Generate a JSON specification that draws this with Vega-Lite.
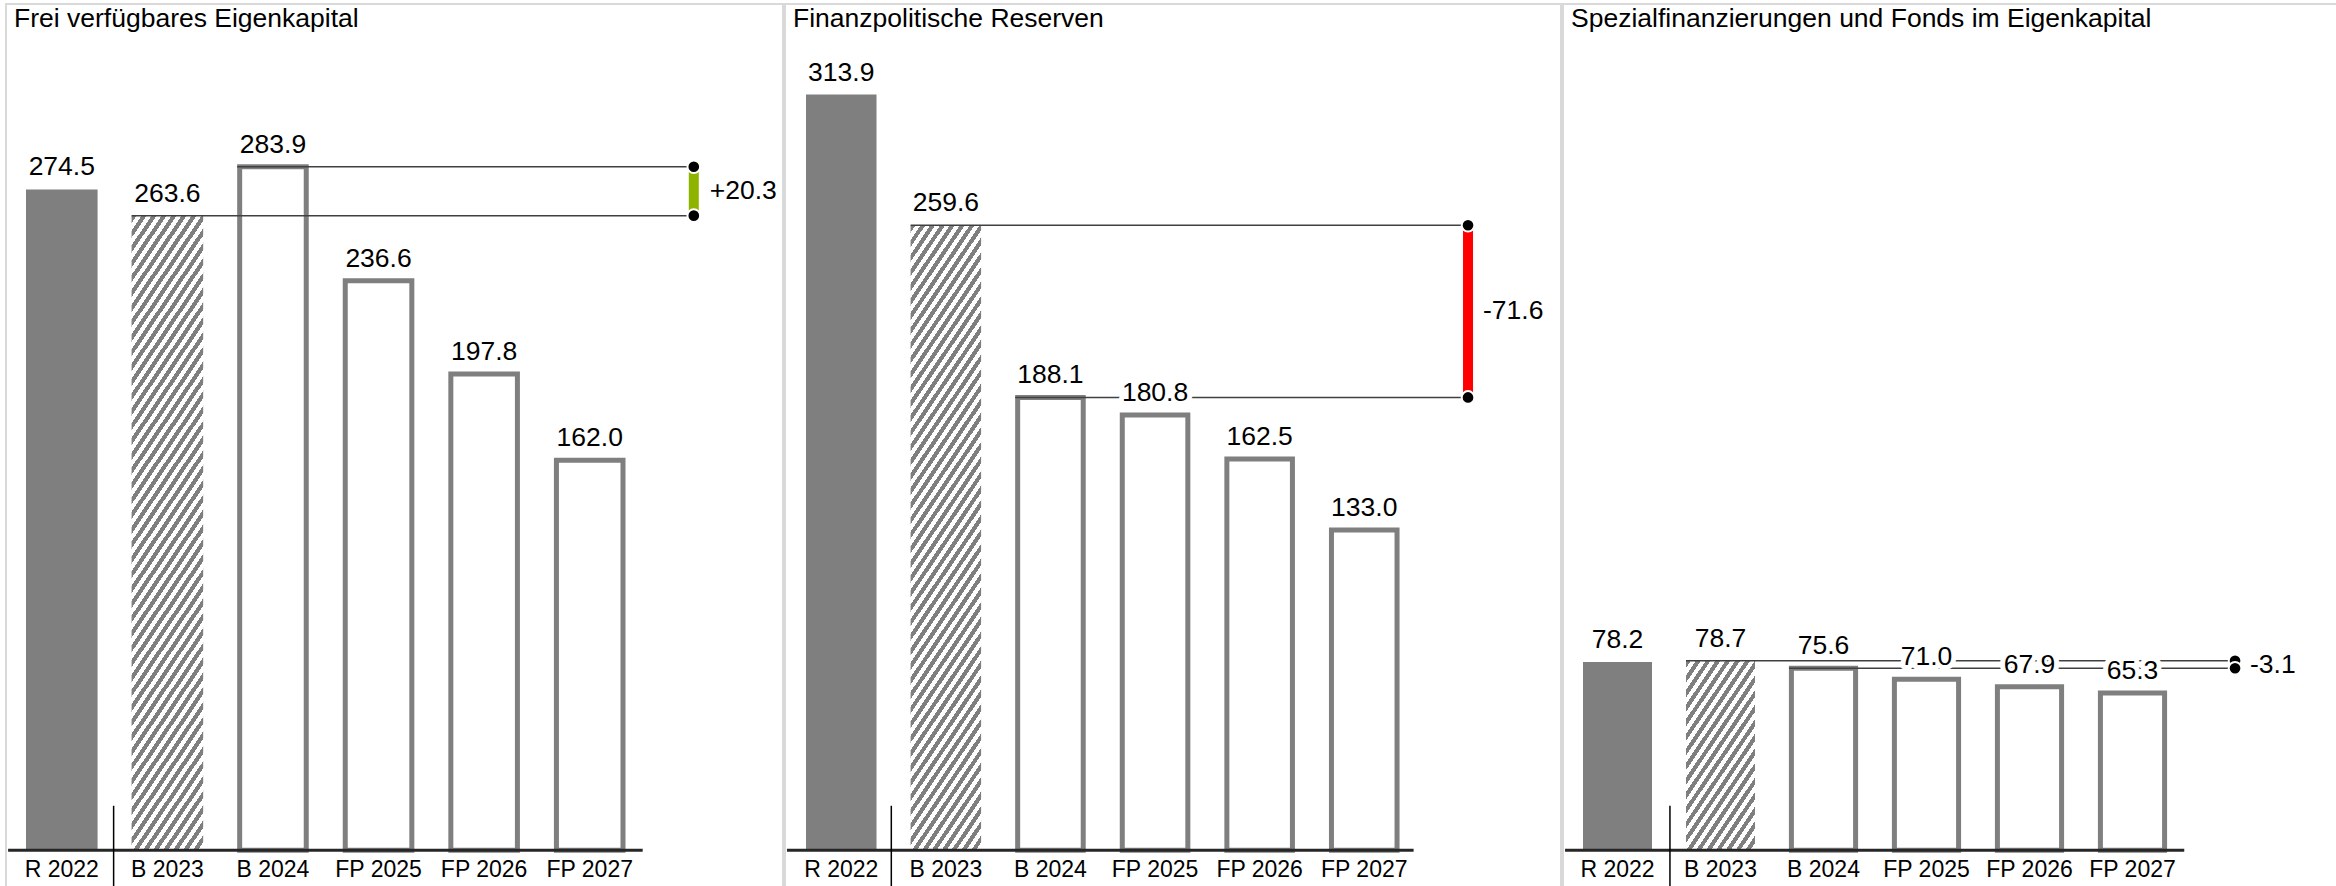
{
  "$schema": "https://vega.github.io/schema/vega-lite/v6.json",
  "padding": {"left": 5, "top": 3, "right": 0, "bottom": 0},
  "background": "white",
  "spacing": 0,
  "config": {
    "view": {"stroke": "#d9d9d9", "strokeWidth": 2},
    "font": "Liberation Sans",
    "axis": {"disable": true},
    "text": {"font": "Liberation Sans", "color": "#000000"},
    "title": {"font": "Liberation Sans", "fontSize": 26.5, "fontWeight": "normal", "anchor": "start", "color": "#000000", "offset": -28, "dx": 8, "baseline": "alphabetic", "frame": "group"}
  },
  "datasets": {
    "p1": [
      {"cat": "R 2022", "value": 274.5, "kind": "R"},
      {"cat": "B 2023", "value": 263.6, "kind": "B"},
      {"cat": "B 2024", "value": 283.9, "kind": "P"},
      {"cat": "FP 2025", "value": 236.6, "kind": "P"},
      {"cat": "FP 2026", "value": 197.8, "kind": "P"},
      {"cat": "FP 2027", "value": 162.0, "kind": "P"}
    ],
    "p2": [
      {"cat": "R 2022", "value": 313.9, "kind": "R"},
      {"cat": "B 2023", "value": 259.6, "kind": "B"},
      {"cat": "B 2024", "value": 188.1, "kind": "P"},
      {"cat": "FP 2025", "value": 180.8, "kind": "P"},
      {"cat": "FP 2026", "value": 162.5, "kind": "P"},
      {"cat": "FP 2027", "value": 133.0, "kind": "P"}
    ],
    "p3": [
      {"cat": "R 2022", "value": 78.2, "kind": "R"},
      {"cat": "B 2023", "value": 78.7, "kind": "B"},
      {"cat": "B 2024", "value": 75.6, "kind": "P"},
      {"cat": "FP 2025", "value": 71.0, "kind": "P"},
      {"cat": "FP 2026", "value": 67.9, "kind": "P"},
      {"cat": "FP 2027", "value": 65.3, "kind": "P"}
    ],
    "d1": [{"from": 263.6, "to": 283.9, "mid": 273.75, "delta": "+20.3"}],
    "d2": [{"from": 259.6, "to": 188.1, "mid": 223.85, "delta": "-71.6"}],
    "d3": [{"from": 78.7, "to": 75.6, "mid": 77.15, "delta": "-3.1"}]
  },
  "hconcat": [
    {
      "width": 777, "height": 887,
      "title": "Frei verfügbares Eigenkapital",
      "data": {"name": "p1"},
      "layer": [
        {"transform": [{"filter": "datum.kind === 'R'"}], "mark": {"type": "bar", "fill": "#7f7f7f"},
         "encoding": {"x": {"field": "cat", "type": "nominal", "scale": {"type": "band", "domain": ["R 2022","B 2023","B 2024","FP 2025","FP 2026","FP 2027"], "range": [20, 619.5], "paddingInner": 0.322, "paddingOuter": 0}},
                      "y": {"field": "value", "type": "quantitative", "scale": {"domain": [-16.9, 351.5], "nice": false, "zero": false}}, "y2": {"datum": 0}}},
        {"transform": [{"filter": "datum.kind === 'B'"}], "mark": {"type": "bar", "fill": {"gradient": "linear", "x1": 0, "y1": 0, "x2": 0.1894, "y2": 1.1346, "stops": [
        {"offset":0,"color":"#7f7f7f"},{"offset":0.01,"color":"#7f7f7f"},{"offset":0.01,"color":"#fff"},{"offset":0.02,"color":"#fff"},
        {"offset":0.02,"color":"#7f7f7f"},{"offset":0.03,"color":"#7f7f7f"},{"offset":0.03,"color":"#fff"},{"offset":0.04,"color":"#fff"},
        {"offset":0.04,"color":"#7f7f7f"},{"offset":0.05,"color":"#7f7f7f"},{"offset":0.05,"color":"#fff"},{"offset":0.06,"color":"#fff"},
        {"offset":0.06,"color":"#7f7f7f"},{"offset":0.07,"color":"#7f7f7f"},{"offset":0.07,"color":"#fff"},{"offset":0.08,"color":"#fff"},
        {"offset":0.08,"color":"#7f7f7f"},{"offset":0.09,"color":"#7f7f7f"},{"offset":0.09,"color":"#fff"},{"offset":0.1,"color":"#fff"},
        {"offset":0.1,"color":"#7f7f7f"},{"offset":0.11,"color":"#7f7f7f"},{"offset":0.11,"color":"#fff"},{"offset":0.12,"color":"#fff"},
        {"offset":0.12,"color":"#7f7f7f"},{"offset":0.13,"color":"#7f7f7f"},{"offset":0.13,"color":"#fff"},{"offset":0.14,"color":"#fff"},
        {"offset":0.14,"color":"#7f7f7f"},{"offset":0.15,"color":"#7f7f7f"},{"offset":0.15,"color":"#fff"},{"offset":0.16,"color":"#fff"},
        {"offset":0.16,"color":"#7f7f7f"},{"offset":0.17,"color":"#7f7f7f"},{"offset":0.17,"color":"#fff"},{"offset":0.18,"color":"#fff"},
        {"offset":0.18,"color":"#7f7f7f"},{"offset":0.19,"color":"#7f7f7f"},{"offset":0.19,"color":"#fff"},{"offset":0.2,"color":"#fff"},
        {"offset":0.2,"color":"#7f7f7f"},{"offset":0.21,"color":"#7f7f7f"},{"offset":0.21,"color":"#fff"},{"offset":0.22,"color":"#fff"},
        {"offset":0.22,"color":"#7f7f7f"},{"offset":0.23,"color":"#7f7f7f"},{"offset":0.23,"color":"#fff"},{"offset":0.24,"color":"#fff"},
        {"offset":0.24,"color":"#7f7f7f"},{"offset":0.25,"color":"#7f7f7f"},{"offset":0.25,"color":"#fff"},{"offset":0.26,"color":"#fff"},
        {"offset":0.26,"color":"#7f7f7f"},{"offset":0.27,"color":"#7f7f7f"},{"offset":0.27,"color":"#fff"},{"offset":0.28,"color":"#fff"},
        {"offset":0.28,"color":"#7f7f7f"},{"offset":0.29,"color":"#7f7f7f"},{"offset":0.29,"color":"#fff"},{"offset":0.3,"color":"#fff"},
        {"offset":0.3,"color":"#7f7f7f"},{"offset":0.31,"color":"#7f7f7f"},{"offset":0.31,"color":"#fff"},{"offset":0.32,"color":"#fff"},
        {"offset":0.32,"color":"#7f7f7f"},{"offset":0.33,"color":"#7f7f7f"},{"offset":0.33,"color":"#fff"},{"offset":0.34,"color":"#fff"},
        {"offset":0.34,"color":"#7f7f7f"},{"offset":0.35,"color":"#7f7f7f"},{"offset":0.35,"color":"#fff"},{"offset":0.36,"color":"#fff"},
        {"offset":0.36,"color":"#7f7f7f"},{"offset":0.37,"color":"#7f7f7f"},{"offset":0.37,"color":"#fff"},{"offset":0.38,"color":"#fff"},
        {"offset":0.38,"color":"#7f7f7f"},{"offset":0.39,"color":"#7f7f7f"},{"offset":0.39,"color":"#fff"},{"offset":0.4,"color":"#fff"},
        {"offset":0.4,"color":"#7f7f7f"},{"offset":0.41,"color":"#7f7f7f"},{"offset":0.41,"color":"#fff"},{"offset":0.42,"color":"#fff"},
        {"offset":0.42,"color":"#7f7f7f"},{"offset":0.43,"color":"#7f7f7f"},{"offset":0.43,"color":"#fff"},{"offset":0.44,"color":"#fff"},
        {"offset":0.44,"color":"#7f7f7f"},{"offset":0.45,"color":"#7f7f7f"},{"offset":0.45,"color":"#fff"},{"offset":0.46,"color":"#fff"},
        {"offset":0.46,"color":"#7f7f7f"},{"offset":0.47,"color":"#7f7f7f"},{"offset":0.47,"color":"#fff"},{"offset":0.48,"color":"#fff"},
        {"offset":0.48,"color":"#7f7f7f"},{"offset":0.49,"color":"#7f7f7f"},{"offset":0.49,"color":"#fff"},{"offset":0.5,"color":"#fff"},
        {"offset":0.5,"color":"#7f7f7f"},{"offset":0.51,"color":"#7f7f7f"},{"offset":0.51,"color":"#fff"},{"offset":0.52,"color":"#fff"},
        {"offset":0.52,"color":"#7f7f7f"},{"offset":0.53,"color":"#7f7f7f"},{"offset":0.53,"color":"#fff"},{"offset":0.54,"color":"#fff"},
        {"offset":0.54,"color":"#7f7f7f"},{"offset":0.55,"color":"#7f7f7f"},{"offset":0.55,"color":"#fff"},{"offset":0.56,"color":"#fff"},
        {"offset":0.56,"color":"#7f7f7f"},{"offset":0.57,"color":"#7f7f7f"},{"offset":0.57,"color":"#fff"},{"offset":0.58,"color":"#fff"},
        {"offset":0.58,"color":"#7f7f7f"},{"offset":0.59,"color":"#7f7f7f"},{"offset":0.59,"color":"#fff"},{"offset":0.6,"color":"#fff"},
        {"offset":0.6,"color":"#7f7f7f"},{"offset":0.61,"color":"#7f7f7f"},{"offset":0.61,"color":"#fff"},{"offset":0.62,"color":"#fff"},
        {"offset":0.62,"color":"#7f7f7f"},{"offset":0.63,"color":"#7f7f7f"},{"offset":0.63,"color":"#fff"},{"offset":0.64,"color":"#fff"},
        {"offset":0.64,"color":"#7f7f7f"},{"offset":0.65,"color":"#7f7f7f"},{"offset":0.65,"color":"#fff"},{"offset":0.66,"color":"#fff"},
        {"offset":0.66,"color":"#7f7f7f"},{"offset":0.67,"color":"#7f7f7f"},{"offset":0.67,"color":"#fff"},{"offset":0.68,"color":"#fff"},
        {"offset":0.68,"color":"#7f7f7f"},{"offset":0.69,"color":"#7f7f7f"},{"offset":0.69,"color":"#fff"},{"offset":0.7,"color":"#fff"},
        {"offset":0.7,"color":"#7f7f7f"},{"offset":0.71,"color":"#7f7f7f"},{"offset":0.71,"color":"#fff"},{"offset":0.72,"color":"#fff"},
        {"offset":0.72,"color":"#7f7f7f"},{"offset":0.73,"color":"#7f7f7f"},{"offset":0.73,"color":"#fff"},{"offset":0.74,"color":"#fff"},
        {"offset":0.74,"color":"#7f7f7f"},{"offset":0.75,"color":"#7f7f7f"},{"offset":0.75,"color":"#fff"},{"offset":0.76,"color":"#fff"},
        {"offset":0.76,"color":"#7f7f7f"},{"offset":0.77,"color":"#7f7f7f"},{"offset":0.77,"color":"#fff"},{"offset":0.78,"color":"#fff"},
        {"offset":0.78,"color":"#7f7f7f"},{"offset":0.79,"color":"#7f7f7f"},{"offset":0.79,"color":"#fff"},{"offset":0.8,"color":"#fff"},
        {"offset":0.8,"color":"#7f7f7f"},{"offset":0.81,"color":"#7f7f7f"},{"offset":0.81,"color":"#fff"},{"offset":0.82,"color":"#fff"},
        {"offset":0.82,"color":"#7f7f7f"},{"offset":0.83,"color":"#7f7f7f"},{"offset":0.83,"color":"#fff"},{"offset":0.84,"color":"#fff"},
        {"offset":0.84,"color":"#7f7f7f"},{"offset":0.85,"color":"#7f7f7f"},{"offset":0.85,"color":"#fff"},{"offset":0.86,"color":"#fff"},
        {"offset":0.86,"color":"#7f7f7f"},{"offset":0.87,"color":"#7f7f7f"},{"offset":0.87,"color":"#fff"},{"offset":0.88,"color":"#fff"},
        {"offset":0.88,"color":"#7f7f7f"},{"offset":0.89,"color":"#7f7f7f"},{"offset":0.89,"color":"#fff"},{"offset":0.9,"color":"#fff"},
        {"offset":0.9,"color":"#7f7f7f"},{"offset":0.91,"color":"#7f7f7f"},{"offset":0.91,"color":"#fff"},{"offset":0.92,"color":"#fff"},
        {"offset":0.92,"color":"#7f7f7f"},{"offset":0.93,"color":"#7f7f7f"},{"offset":0.93,"color":"#fff"},{"offset":0.94,"color":"#fff"},
        {"offset":0.94,"color":"#7f7f7f"},{"offset":0.95,"color":"#7f7f7f"},{"offset":0.95,"color":"#fff"},{"offset":0.96,"color":"#fff"},
        {"offset":0.96,"color":"#7f7f7f"},{"offset":0.97,"color":"#7f7f7f"},{"offset":0.97,"color":"#fff"},{"offset":0.98,"color":"#fff"},
        {"offset":0.98,"color":"#7f7f7f"},{"offset":0.99,"color":"#7f7f7f"},{"offset":0.99,"color":"#fff"},{"offset":1,"color":"#fff"}
        ]}},
         "encoding": {"x": {"field": "cat", "type": "nominal"}, "y": {"field": "value", "type": "quantitative"}, "y2": {"datum": 0}}},
        {"transform": [{"filter": "datum.kind === 'P'"}], "mark": {"type": "bar", "fill": "#ffffff", "stroke": "#7f7f7f", "strokeWidth": 5, "width": {"band": 0.93}},
         "encoding": {"x": {"field": "cat", "type": "nominal"}, "y": {"field": "value", "type": "quantitative"}, "y2": {"datum": 0}}},
        {"data": {"name": "d1"}, "mark": {"type": "rule", "color": "#262626", "strokeWidth": 3},
         "encoding": {"x": {"datum": "R 2022", "type": "nominal", "bandPosition": -0.25, "scale": {"type": "band"}}, "x2": {"datum": "FP 2027", "bandPosition": 1.24}, "y": {"datum": 0, "type": "quantitative"}}},
        {"data": {"name": "d1"}, "mark": {"type": "rule", "color": "#000000", "strokeWidth": 1.5},
         "encoding": {"x": {"datum": "R 2022", "type": "nominal", "bandPosition": 1.224, "scale": {"type": "band"}}, "y": {"datum": 18.5, "type": "quantitative"}, "y2": {"datum": -16.9}}},
        {"data": {"name": "d1"}, "mark": {"type": "rule", "color": "#404040", "strokeWidth": 1.5},
         "encoding": {"x": {"datum": "B 2023", "type": "nominal", "bandPosition": 0, "scale": {"type": "band"}}, "x2": {"datum": "FP 2027", "bandPosition": 1.954}, "y": {"field": "from", "type": "quantitative"}}},
        {"data": {"name": "d1"}, "mark": {"type": "rule", "color": "#404040", "strokeWidth": 1.5},
         "encoding": {"x": {"datum": "B 2024", "type": "nominal", "bandPosition": 0, "scale": {"type": "band"}}, "x2": {"datum": "FP 2027", "bandPosition": 1.954}, "y": {"field": "to", "type": "quantitative"}}},
        {"mark": {"type": "text", "fontSize": 26.5, "dy": -14, "baseline": "alphabetic", "fill": "#ffffff", "stroke": "#ffffff", "strokeWidth": 10, "strokeJoin": "round"},
         "encoding": {"x": {"field": "cat", "type": "nominal", "scale": {"type": "band"}}, "y": {"field": "value", "type": "quantitative"}, "text": {"field": "value", "type": "quantitative", "format": ".1f"}}},
        {"mark": {"type": "text", "fontSize": 26.5, "dy": -14, "baseline": "alphabetic", "fill": "#000000"},
         "encoding": {"x": {"field": "cat", "type": "nominal", "scale": {"type": "band"}}, "y": {"field": "value", "type": "quantitative"}, "text": {"field": "value", "type": "quantitative", "format": ".1f"}}},
        {"mark": {"type": "text", "fontSize": 23, "dy": 27, "baseline": "alphabetic", "fill": "#000000"},
         "encoding": {"x": {"field": "cat", "type": "nominal", "scale": {"type": "band"}}, "y": {"datum": 0, "type": "quantitative"}, "text": {"field": "cat", "type": "nominal"}}},
        {"data": {"name": "d1"}, "mark": {"type": "rule", "color": "#8fb400", "strokeWidth": 10},
         "encoding": {"x": {"datum": "FP 2027", "type": "nominal", "bandPosition": 1.954, "scale": {"type": "band"}}, "y": {"field": "from", "type": "quantitative"}, "y2": {"field": "to"}}},
        {"data": {"name": "d1"}, "mark": {"type": "point", "filled": true, "fill": "#000000", "stroke": "#ffffff", "strokeWidth": 2, "size": 160, "opacity": 1},
         "encoding": {"x": {"datum": "FP 2027", "type": "nominal", "bandPosition": 1.954, "scale": {"type": "band"}}, "y": {"field": "from", "type": "quantitative"}}},
        {"data": {"name": "d1"}, "mark": {"type": "point", "filled": true, "fill": "#000000", "stroke": "#ffffff", "strokeWidth": 2, "size": 160, "opacity": 1},
         "encoding": {"x": {"datum": "FP 2027", "type": "nominal", "bandPosition": 1.954, "scale": {"type": "band"}}, "y": {"field": "to", "type": "quantitative"}}},
        {"data": {"name": "d1"}, "mark": {"type": "text", "fontSize": 26.5, "align": "left", "baseline": "middle", "dx": 16, "fill": "#000000"},
         "encoding": {"x": {"datum": "FP 2027", "type": "nominal", "bandPosition": 1.954, "scale": {"type": "band"}}, "y": {"field": "mid", "type": "quantitative"}, "text": {"field": "delta", "type": "nominal"}}}
      ]
    },
    {
      "width": 776, "height": 887,
      "title": "Finanzpolitische Reserven",
      "data": {"name": "p2"},
      "layer": [
        {"transform": [{"filter": "datum.kind === 'R'"}], "mark": {"type": "bar", "fill": "#7f7f7f"},
         "encoding": {"x": {"field": "cat", "type": "nominal", "scale": {"type": "band", "domain": ["R 2022","B 2023","B 2024","FP 2025","FP 2026","FP 2027"], "range": [21, 614.5], "paddingInner": 0.326, "paddingOuter": 0}},
                      "y": {"field": "value", "type": "quantitative", "scale": {"domain": [-16.9, 351.5], "nice": false, "zero": false}}, "y2": {"datum": 0}}},
        {"transform": [{"filter": "datum.kind === 'B'"}], "mark": {"type": "bar", "fill": {"gradient": "linear", "x1": 0, "y1": 0, "x2": 0.1894, "y2": 1.1346, "stops": [
        {"offset":0,"color":"#7f7f7f"},{"offset":0.01,"color":"#7f7f7f"},{"offset":0.01,"color":"#fff"},{"offset":0.02,"color":"#fff"},
        {"offset":0.02,"color":"#7f7f7f"},{"offset":0.03,"color":"#7f7f7f"},{"offset":0.03,"color":"#fff"},{"offset":0.04,"color":"#fff"},
        {"offset":0.04,"color":"#7f7f7f"},{"offset":0.05,"color":"#7f7f7f"},{"offset":0.05,"color":"#fff"},{"offset":0.06,"color":"#fff"},
        {"offset":0.06,"color":"#7f7f7f"},{"offset":0.07,"color":"#7f7f7f"},{"offset":0.07,"color":"#fff"},{"offset":0.08,"color":"#fff"},
        {"offset":0.08,"color":"#7f7f7f"},{"offset":0.09,"color":"#7f7f7f"},{"offset":0.09,"color":"#fff"},{"offset":0.1,"color":"#fff"},
        {"offset":0.1,"color":"#7f7f7f"},{"offset":0.11,"color":"#7f7f7f"},{"offset":0.11,"color":"#fff"},{"offset":0.12,"color":"#fff"},
        {"offset":0.12,"color":"#7f7f7f"},{"offset":0.13,"color":"#7f7f7f"},{"offset":0.13,"color":"#fff"},{"offset":0.14,"color":"#fff"},
        {"offset":0.14,"color":"#7f7f7f"},{"offset":0.15,"color":"#7f7f7f"},{"offset":0.15,"color":"#fff"},{"offset":0.16,"color":"#fff"},
        {"offset":0.16,"color":"#7f7f7f"},{"offset":0.17,"color":"#7f7f7f"},{"offset":0.17,"color":"#fff"},{"offset":0.18,"color":"#fff"},
        {"offset":0.18,"color":"#7f7f7f"},{"offset":0.19,"color":"#7f7f7f"},{"offset":0.19,"color":"#fff"},{"offset":0.2,"color":"#fff"},
        {"offset":0.2,"color":"#7f7f7f"},{"offset":0.21,"color":"#7f7f7f"},{"offset":0.21,"color":"#fff"},{"offset":0.22,"color":"#fff"},
        {"offset":0.22,"color":"#7f7f7f"},{"offset":0.23,"color":"#7f7f7f"},{"offset":0.23,"color":"#fff"},{"offset":0.24,"color":"#fff"},
        {"offset":0.24,"color":"#7f7f7f"},{"offset":0.25,"color":"#7f7f7f"},{"offset":0.25,"color":"#fff"},{"offset":0.26,"color":"#fff"},
        {"offset":0.26,"color":"#7f7f7f"},{"offset":0.27,"color":"#7f7f7f"},{"offset":0.27,"color":"#fff"},{"offset":0.28,"color":"#fff"},
        {"offset":0.28,"color":"#7f7f7f"},{"offset":0.29,"color":"#7f7f7f"},{"offset":0.29,"color":"#fff"},{"offset":0.3,"color":"#fff"},
        {"offset":0.3,"color":"#7f7f7f"},{"offset":0.31,"color":"#7f7f7f"},{"offset":0.31,"color":"#fff"},{"offset":0.32,"color":"#fff"},
        {"offset":0.32,"color":"#7f7f7f"},{"offset":0.33,"color":"#7f7f7f"},{"offset":0.33,"color":"#fff"},{"offset":0.34,"color":"#fff"},
        {"offset":0.34,"color":"#7f7f7f"},{"offset":0.35,"color":"#7f7f7f"},{"offset":0.35,"color":"#fff"},{"offset":0.36,"color":"#fff"},
        {"offset":0.36,"color":"#7f7f7f"},{"offset":0.37,"color":"#7f7f7f"},{"offset":0.37,"color":"#fff"},{"offset":0.38,"color":"#fff"},
        {"offset":0.38,"color":"#7f7f7f"},{"offset":0.39,"color":"#7f7f7f"},{"offset":0.39,"color":"#fff"},{"offset":0.4,"color":"#fff"},
        {"offset":0.4,"color":"#7f7f7f"},{"offset":0.41,"color":"#7f7f7f"},{"offset":0.41,"color":"#fff"},{"offset":0.42,"color":"#fff"},
        {"offset":0.42,"color":"#7f7f7f"},{"offset":0.43,"color":"#7f7f7f"},{"offset":0.43,"color":"#fff"},{"offset":0.44,"color":"#fff"},
        {"offset":0.44,"color":"#7f7f7f"},{"offset":0.45,"color":"#7f7f7f"},{"offset":0.45,"color":"#fff"},{"offset":0.46,"color":"#fff"},
        {"offset":0.46,"color":"#7f7f7f"},{"offset":0.47,"color":"#7f7f7f"},{"offset":0.47,"color":"#fff"},{"offset":0.48,"color":"#fff"},
        {"offset":0.48,"color":"#7f7f7f"},{"offset":0.49,"color":"#7f7f7f"},{"offset":0.49,"color":"#fff"},{"offset":0.5,"color":"#fff"},
        {"offset":0.5,"color":"#7f7f7f"},{"offset":0.51,"color":"#7f7f7f"},{"offset":0.51,"color":"#fff"},{"offset":0.52,"color":"#fff"},
        {"offset":0.52,"color":"#7f7f7f"},{"offset":0.53,"color":"#7f7f7f"},{"offset":0.53,"color":"#fff"},{"offset":0.54,"color":"#fff"},
        {"offset":0.54,"color":"#7f7f7f"},{"offset":0.55,"color":"#7f7f7f"},{"offset":0.55,"color":"#fff"},{"offset":0.56,"color":"#fff"},
        {"offset":0.56,"color":"#7f7f7f"},{"offset":0.57,"color":"#7f7f7f"},{"offset":0.57,"color":"#fff"},{"offset":0.58,"color":"#fff"},
        {"offset":0.58,"color":"#7f7f7f"},{"offset":0.59,"color":"#7f7f7f"},{"offset":0.59,"color":"#fff"},{"offset":0.6,"color":"#fff"},
        {"offset":0.6,"color":"#7f7f7f"},{"offset":0.61,"color":"#7f7f7f"},{"offset":0.61,"color":"#fff"},{"offset":0.62,"color":"#fff"},
        {"offset":0.62,"color":"#7f7f7f"},{"offset":0.63,"color":"#7f7f7f"},{"offset":0.63,"color":"#fff"},{"offset":0.64,"color":"#fff"},
        {"offset":0.64,"color":"#7f7f7f"},{"offset":0.65,"color":"#7f7f7f"},{"offset":0.65,"color":"#fff"},{"offset":0.66,"color":"#fff"},
        {"offset":0.66,"color":"#7f7f7f"},{"offset":0.67,"color":"#7f7f7f"},{"offset":0.67,"color":"#fff"},{"offset":0.68,"color":"#fff"},
        {"offset":0.68,"color":"#7f7f7f"},{"offset":0.69,"color":"#7f7f7f"},{"offset":0.69,"color":"#fff"},{"offset":0.7,"color":"#fff"},
        {"offset":0.7,"color":"#7f7f7f"},{"offset":0.71,"color":"#7f7f7f"},{"offset":0.71,"color":"#fff"},{"offset":0.72,"color":"#fff"},
        {"offset":0.72,"color":"#7f7f7f"},{"offset":0.73,"color":"#7f7f7f"},{"offset":0.73,"color":"#fff"},{"offset":0.74,"color":"#fff"},
        {"offset":0.74,"color":"#7f7f7f"},{"offset":0.75,"color":"#7f7f7f"},{"offset":0.75,"color":"#fff"},{"offset":0.76,"color":"#fff"},
        {"offset":0.76,"color":"#7f7f7f"},{"offset":0.77,"color":"#7f7f7f"},{"offset":0.77,"color":"#fff"},{"offset":0.78,"color":"#fff"},
        {"offset":0.78,"color":"#7f7f7f"},{"offset":0.79,"color":"#7f7f7f"},{"offset":0.79,"color":"#fff"},{"offset":0.8,"color":"#fff"},
        {"offset":0.8,"color":"#7f7f7f"},{"offset":0.81,"color":"#7f7f7f"},{"offset":0.81,"color":"#fff"},{"offset":0.82,"color":"#fff"},
        {"offset":0.82,"color":"#7f7f7f"},{"offset":0.83,"color":"#7f7f7f"},{"offset":0.83,"color":"#fff"},{"offset":0.84,"color":"#fff"},
        {"offset":0.84,"color":"#7f7f7f"},{"offset":0.85,"color":"#7f7f7f"},{"offset":0.85,"color":"#fff"},{"offset":0.86,"color":"#fff"},
        {"offset":0.86,"color":"#7f7f7f"},{"offset":0.87,"color":"#7f7f7f"},{"offset":0.87,"color":"#fff"},{"offset":0.88,"color":"#fff"},
        {"offset":0.88,"color":"#7f7f7f"},{"offset":0.89,"color":"#7f7f7f"},{"offset":0.89,"color":"#fff"},{"offset":0.9,"color":"#fff"},
        {"offset":0.9,"color":"#7f7f7f"},{"offset":0.91,"color":"#7f7f7f"},{"offset":0.91,"color":"#fff"},{"offset":0.92,"color":"#fff"},
        {"offset":0.92,"color":"#7f7f7f"},{"offset":0.93,"color":"#7f7f7f"},{"offset":0.93,"color":"#fff"},{"offset":0.94,"color":"#fff"},
        {"offset":0.94,"color":"#7f7f7f"},{"offset":0.95,"color":"#7f7f7f"},{"offset":0.95,"color":"#fff"},{"offset":0.96,"color":"#fff"},
        {"offset":0.96,"color":"#7f7f7f"},{"offset":0.97,"color":"#7f7f7f"},{"offset":0.97,"color":"#fff"},{"offset":0.98,"color":"#fff"},
        {"offset":0.98,"color":"#7f7f7f"},{"offset":0.99,"color":"#7f7f7f"},{"offset":0.99,"color":"#fff"},{"offset":1,"color":"#fff"}
        ]}},
         "encoding": {"x": {"field": "cat", "type": "nominal"}, "y": {"field": "value", "type": "quantitative"}, "y2": {"datum": 0}}},
        {"transform": [{"filter": "datum.kind === 'P'"}], "mark": {"type": "bar", "fill": "#ffffff", "stroke": "#7f7f7f", "strokeWidth": 5, "width": {"band": 0.93}},
         "encoding": {"x": {"field": "cat", "type": "nominal"}, "y": {"field": "value", "type": "quantitative"}, "y2": {"datum": 0}}},
        {"data": {"name": "d2"}, "mark": {"type": "rule", "color": "#262626", "strokeWidth": 3},
         "encoding": {"x": {"datum": "R 2022", "type": "nominal", "bandPosition": -0.27, "scale": {"type": "band"}}, "x2": {"datum": "FP 2027", "bandPosition": 1.2}, "y": {"datum": 0, "type": "quantitative"}}},
        {"data": {"name": "d2"}, "mark": {"type": "rule", "color": "#000000", "strokeWidth": 1.5},
         "encoding": {"x": {"datum": "R 2022", "type": "nominal", "bandPosition": 1.21, "scale": {"type": "band"}}, "y": {"datum": 18.5, "type": "quantitative"}, "y2": {"datum": -16.9}}},
        {"data": {"name": "d2"}, "mark": {"type": "rule", "color": "#404040", "strokeWidth": 1.5},
         "encoding": {"x": {"datum": "B 2023", "type": "nominal", "bandPosition": 0, "scale": {"type": "band"}}, "x2": {"datum": "FP 2027", "bandPosition": 1.972}, "y": {"field": "from", "type": "quantitative"}}},
        {"data": {"name": "d2"}, "mark": {"type": "rule", "color": "#404040", "strokeWidth": 1.5},
         "encoding": {"x": {"datum": "B 2024", "type": "nominal", "bandPosition": 0, "scale": {"type": "band"}}, "x2": {"datum": "FP 2027", "bandPosition": 1.972}, "y": {"field": "to", "type": "quantitative"}}},
        {"mark": {"type": "text", "fontSize": 26.5, "dy": -14, "baseline": "alphabetic", "fill": "#ffffff", "stroke": "#ffffff", "strokeWidth": 10, "strokeJoin": "round"},
         "encoding": {"x": {"field": "cat", "type": "nominal", "scale": {"type": "band"}}, "y": {"field": "value", "type": "quantitative"}, "text": {"field": "value", "type": "quantitative", "format": ".1f"}}},
        {"mark": {"type": "text", "fontSize": 26.5, "dy": -14, "baseline": "alphabetic", "fill": "#000000"},
         "encoding": {"x": {"field": "cat", "type": "nominal", "scale": {"type": "band"}}, "y": {"field": "value", "type": "quantitative"}, "text": {"field": "value", "type": "quantitative", "format": ".1f"}}},
        {"mark": {"type": "text", "fontSize": 23, "dy": 27, "baseline": "alphabetic", "fill": "#000000"},
         "encoding": {"x": {"field": "cat", "type": "nominal", "scale": {"type": "band"}}, "y": {"datum": 0, "type": "quantitative"}, "text": {"field": "cat", "type": "nominal"}}},
        {"data": {"name": "d2"}, "mark": {"type": "rule", "color": "#ff0000", "strokeWidth": 10},
         "encoding": {"x": {"datum": "FP 2027", "type": "nominal", "bandPosition": 1.972, "scale": {"type": "band"}}, "y": {"field": "from", "type": "quantitative"}, "y2": {"field": "to"}}},
        {"data": {"name": "d2"}, "mark": {"type": "point", "filled": true, "fill": "#000000", "stroke": "#ffffff", "strokeWidth": 2, "size": 160, "opacity": 1},
         "encoding": {"x": {"datum": "FP 2027", "type": "nominal", "bandPosition": 1.972, "scale": {"type": "band"}}, "y": {"field": "from", "type": "quantitative"}}},
        {"data": {"name": "d2"}, "mark": {"type": "point", "filled": true, "fill": "#000000", "stroke": "#ffffff", "strokeWidth": 2, "size": 160, "opacity": 1},
         "encoding": {"x": {"datum": "FP 2027", "type": "nominal", "bandPosition": 1.972, "scale": {"type": "band"}}, "y": {"field": "to", "type": "quantitative"}}},
        {"data": {"name": "d2"}, "mark": {"type": "text", "fontSize": 26.5, "align": "left", "baseline": "middle", "dx": 15, "fill": "#000000"},
         "encoding": {"x": {"datum": "FP 2027", "type": "nominal", "bandPosition": 1.972, "scale": {"type": "band"}}, "y": {"field": "mid", "type": "quantitative"}, "text": {"field": "delta", "type": "nominal"}}}
      ]
    },
    {
      "width": 776, "height": 887,
      "title": "Spezialfinanzierungen und Fonds im Eigenkapital",
      "data": {"name": "p3"},
      "layer": [
        {"transform": [{"filter": "datum.kind === 'R'"}], "mark": {"type": "bar", "fill": "#7f7f7f"},
         "encoding": {"x": {"field": "cat", "type": "nominal", "scale": {"type": "band", "domain": ["R 2022","B 2023","B 2024","FP 2025","FP 2026","FP 2027"], "range": [20, 604], "paddingInner": 0.33, "paddingOuter": 0}},
                      "y": {"field": "value", "type": "quantitative", "scale": {"domain": [-16.9, 351.5], "nice": false, "zero": false}}, "y2": {"datum": 0}}},
        {"transform": [{"filter": "datum.kind === 'B'"}], "mark": {"type": "bar", "fill": {"gradient": "linear", "x1": 0, "y1": 0, "x2": 0.6432, "y2": 1.1925, "stops": [
        {"offset":0,"color":"#7f7f7f"},{"offset":0.025,"color":"#7f7f7f"},{"offset":0.025,"color":"#fff"},{"offset":0.05,"color":"#fff"},
        {"offset":0.05,"color":"#7f7f7f"},{"offset":0.075,"color":"#7f7f7f"},{"offset":0.075,"color":"#fff"},{"offset":0.1,"color":"#fff"},
        {"offset":0.1,"color":"#7f7f7f"},{"offset":0.125,"color":"#7f7f7f"},{"offset":0.125,"color":"#fff"},{"offset":0.15,"color":"#fff"},
        {"offset":0.15,"color":"#7f7f7f"},{"offset":0.175,"color":"#7f7f7f"},{"offset":0.175,"color":"#fff"},{"offset":0.2,"color":"#fff"},
        {"offset":0.2,"color":"#7f7f7f"},{"offset":0.225,"color":"#7f7f7f"},{"offset":0.225,"color":"#fff"},{"offset":0.25,"color":"#fff"},
        {"offset":0.25,"color":"#7f7f7f"},{"offset":0.275,"color":"#7f7f7f"},{"offset":0.275,"color":"#fff"},{"offset":0.3,"color":"#fff"},
        {"offset":0.3,"color":"#7f7f7f"},{"offset":0.325,"color":"#7f7f7f"},{"offset":0.325,"color":"#fff"},{"offset":0.35,"color":"#fff"},
        {"offset":0.35,"color":"#7f7f7f"},{"offset":0.375,"color":"#7f7f7f"},{"offset":0.375,"color":"#fff"},{"offset":0.4,"color":"#fff"},
        {"offset":0.4,"color":"#7f7f7f"},{"offset":0.425,"color":"#7f7f7f"},{"offset":0.425,"color":"#fff"},{"offset":0.45,"color":"#fff"},
        {"offset":0.45,"color":"#7f7f7f"},{"offset":0.475,"color":"#7f7f7f"},{"offset":0.475,"color":"#fff"},{"offset":0.5,"color":"#fff"},
        {"offset":0.5,"color":"#7f7f7f"},{"offset":0.525,"color":"#7f7f7f"},{"offset":0.525,"color":"#fff"},{"offset":0.55,"color":"#fff"},
        {"offset":0.55,"color":"#7f7f7f"},{"offset":0.575,"color":"#7f7f7f"},{"offset":0.575,"color":"#fff"},{"offset":0.6,"color":"#fff"},
        {"offset":0.6,"color":"#7f7f7f"},{"offset":0.625,"color":"#7f7f7f"},{"offset":0.625,"color":"#fff"},{"offset":0.65,"color":"#fff"},
        {"offset":0.65,"color":"#7f7f7f"},{"offset":0.675,"color":"#7f7f7f"},{"offset":0.675,"color":"#fff"},{"offset":0.7,"color":"#fff"},
        {"offset":0.7,"color":"#7f7f7f"},{"offset":0.725,"color":"#7f7f7f"},{"offset":0.725,"color":"#fff"},{"offset":0.75,"color":"#fff"},
        {"offset":0.75,"color":"#7f7f7f"},{"offset":0.775,"color":"#7f7f7f"},{"offset":0.775,"color":"#fff"},{"offset":0.8,"color":"#fff"},
        {"offset":0.8,"color":"#7f7f7f"},{"offset":0.825,"color":"#7f7f7f"},{"offset":0.825,"color":"#fff"},{"offset":0.85,"color":"#fff"},
        {"offset":0.85,"color":"#7f7f7f"},{"offset":0.875,"color":"#7f7f7f"},{"offset":0.875,"color":"#fff"},{"offset":0.9,"color":"#fff"},
        {"offset":0.9,"color":"#7f7f7f"},{"offset":0.925,"color":"#7f7f7f"},{"offset":0.925,"color":"#fff"},{"offset":0.95,"color":"#fff"},
        {"offset":0.95,"color":"#7f7f7f"},{"offset":0.975,"color":"#7f7f7f"},{"offset":0.975,"color":"#fff"},{"offset":1,"color":"#fff"}
        ]}},
         "encoding": {"x": {"field": "cat", "type": "nominal"}, "y": {"field": "value", "type": "quantitative"}, "y2": {"datum": 0}}},
        {"transform": [{"filter": "datum.kind === 'P'"}], "mark": {"type": "bar", "fill": "#ffffff", "stroke": "#7f7f7f", "strokeWidth": 5, "width": {"band": 0.93}},
         "encoding": {"x": {"field": "cat", "type": "nominal"}, "y": {"field": "value", "type": "quantitative"}, "y2": {"datum": 0}}},
        {"data": {"name": "d3"}, "mark": {"type": "rule", "color": "#262626", "strokeWidth": 3},
         "encoding": {"x": {"datum": "R 2022", "type": "nominal", "bandPosition": -0.26, "scale": {"type": "band"}}, "x2": {"datum": "FP 2027", "bandPosition": 1.25}, "y": {"datum": 0, "type": "quantitative"}}},
        {"data": {"name": "d3"}, "mark": {"type": "rule", "color": "#000000", "strokeWidth": 1.5},
         "encoding": {"x": {"datum": "R 2022", "type": "nominal", "bandPosition": 1.26, "scale": {"type": "band"}}, "y": {"datum": 18.5, "type": "quantitative"}, "y2": {"datum": -16.9}}},
        {"data": {"name": "d3"}, "mark": {"type": "rule", "color": "#404040", "strokeWidth": 1.5},
         "encoding": {"x": {"datum": "B 2023", "type": "nominal", "bandPosition": 0, "scale": {"type": "band"}}, "x2": {"datum": "FP 2027", "bandPosition": 1.986}, "y": {"field": "from", "type": "quantitative"}}},
        {"data": {"name": "d3"}, "mark": {"type": "rule", "color": "#404040", "strokeWidth": 1.5},
         "encoding": {"x": {"datum": "B 2024", "type": "nominal", "bandPosition": 0, "scale": {"type": "band"}}, "x2": {"datum": "FP 2027", "bandPosition": 1.986}, "y": {"field": "to", "type": "quantitative"}}},
        {"mark": {"type": "text", "fontSize": 26.5, "dy": -14, "baseline": "alphabetic", "fill": "#ffffff", "stroke": "#ffffff", "strokeWidth": 10, "strokeJoin": "round"},
         "encoding": {"x": {"field": "cat", "type": "nominal", "scale": {"type": "band"}}, "y": {"field": "value", "type": "quantitative"}, "text": {"field": "value", "type": "quantitative", "format": ".1f"}}},
        {"mark": {"type": "text", "fontSize": 26.5, "dy": -14, "baseline": "alphabetic", "fill": "#000000"},
         "encoding": {"x": {"field": "cat", "type": "nominal", "scale": {"type": "band"}}, "y": {"field": "value", "type": "quantitative"}, "text": {"field": "value", "type": "quantitative", "format": ".1f"}}},
        {"mark": {"type": "text", "fontSize": 23, "dy": 27, "baseline": "alphabetic", "fill": "#000000"},
         "encoding": {"x": {"field": "cat", "type": "nominal", "scale": {"type": "band"}}, "y": {"datum": 0, "type": "quantitative"}, "text": {"field": "cat", "type": "nominal"}}},
        {"data": {"name": "d3"}, "mark": {"type": "rule", "color": "#ff0000", "strokeWidth": 10},
         "encoding": {"x": {"datum": "FP 2027", "type": "nominal", "bandPosition": 1.986, "scale": {"type": "band"}}, "y": {"field": "from", "type": "quantitative"}, "y2": {"field": "to"}}},
        {"data": {"name": "d3"}, "mark": {"type": "point", "filled": true, "fill": "#000000", "stroke": "#ffffff", "strokeWidth": 2, "size": 160, "opacity": 1},
         "encoding": {"x": {"datum": "FP 2027", "type": "nominal", "bandPosition": 1.986, "scale": {"type": "band"}}, "y": {"field": "from", "type": "quantitative"}}},
        {"data": {"name": "d3"}, "mark": {"type": "point", "filled": true, "fill": "#000000", "stroke": "#ffffff", "strokeWidth": 2, "size": 160, "opacity": 1},
         "encoding": {"x": {"datum": "FP 2027", "type": "nominal", "bandPosition": 1.986, "scale": {"type": "band"}}, "y": {"field": "to", "type": "quantitative"}}},
        {"data": {"name": "d3"}, "mark": {"type": "text", "fontSize": 26.5, "align": "left", "baseline": "middle", "dx": 15, "fill": "#000000"},
         "encoding": {"x": {"datum": "FP 2027", "type": "nominal", "bandPosition": 1.986, "scale": {"type": "band"}}, "y": {"field": "mid", "type": "quantitative"}, "text": {"field": "delta", "type": "nominal"}}}
      ]
    }
  ],
  "resolve": {"scale": {"x": "independent", "y": "independent"}}
}
